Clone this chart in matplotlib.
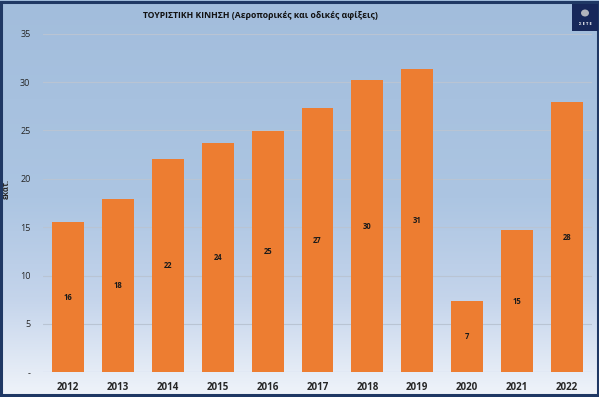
import numpy as np
import matplotlib
matplotlib.use("Agg")
import matplotlib.pyplot as plt
from matplotlib.patches import Rectangle, Ellipse

# data (million arrivals)
years = ["2012", "2013", "2014", "2015", "2016", "2017", "2018", "2019", "2020", "2021", "2022"]
arrivals = [15.5, 17.9, 22.0, 23.7, 24.9, 27.3, 30.2, 31.4, 7.4, 14.7, 27.9]
ytick_vals = [0, 5, 10, 15, 20, 25, 30, 35]
ytick_labels = ["-", "5", "10", "15", "20", "25", "30", "35"]

plt.rcParams["font.family"] = ["Open Sans", "DejaVu Sans"]

fig = plt.figure(figsize=(5.99, 3.97), dpi=100)

# background gradient (blue at top, near white at bottom)
bg = fig.add_axes([0, 0, 1, 1], zorder=-2)
stops = np.array([0.0, 0.5, 0.75, 1.0])
cols = np.array([[162, 189, 220], [172, 197, 226], [196, 212, 235], [240, 244, 250]]) / 255
t = np.linspace(0, 1, 400)
grad = np.stack([np.interp(t, stops, cols[:, i]) for i in range(3)], axis=1)
bg.imshow(grad[:, None, :], aspect="auto", extent=[0, 1, 0, 1])
bg.set_axis_off()
# frame
bg.add_patch(Rectangle((0.002, 0.004), 0.996, 0.992, fill=False, edgecolor="#1f3864",
                       linewidth=2.2, transform=bg.transAxes))

# logo box top right
bg.add_patch(Rectangle((572 / 599, 1 - 31 / 397), 26 / 599, 27 / 397, facecolor="#17285a",
                       edgecolor="none", transform=bg.transAxes))
bg.add_patch(Ellipse((585 / 599, 1 - 13 / 397), 8 / 599, 7 / 397, facecolor="#b0b4bc",
                     edgecolor="none", transform=bg.transAxes))
bg.text(585 / 599, 1 - 24 / 397, "Σ Ε Τ Ε", color="white", fontsize=3, ha="center",
        va="center", fontweight="bold", transform=bg.transAxes)
bg.set_xlim(0, 1)
bg.set_ylim(0, 1)

ax = fig.add_axes([43 / 599, 1 - 372.3 / 397, 549 / 599, 338.6 / 397])
ax.set_facecolor("none")

x = np.arange(len(years))
bars = ax.bar(x, arrivals, width=0.64, color="#ed7d31", zorder=3)
for xi, v in zip(x, arrivals):
    ax.text(xi, v / 2, str(int(round(v))), ha="center", va="center", fontsize=5.5,
            fontweight="bold", color="#1a1a1a", zorder=4)

ax.set_xlim(-0.5, len(years) - 0.5)
ax.set_ylim(0, 35)
ax.set_xticks(x)
ax.set_xticklabels(years, fontsize=7, fontweight="bold", color="#262626")
ax.set_yticks(ytick_vals)
ax.set_yticklabels(ytick_labels, fontsize=6.5, color="#262626")
ax.tick_params(length=0)
ax.tick_params(axis="x", pad=7)
ax.tick_params(axis="y", pad=9)
ax.grid(axis="y", color="#b9c4d3", linewidth=0.8, zorder=0)
for s in ax.spines.values():
    s.set_visible(False)

ax.set_ylabel("εκατ.", fontsize=5.5, fontweight="bold", color="#262626")
ax.yaxis.set_label_coords(-0.058, 0.54)

fig.text(260 / 599, 1 - 16 / 397, "ΤΟΥΡΙΣΤΙΚΗ ΚΙΝΗΣΗ (Αεροπορικές και οδικές αφίξεις)",
         ha="center", va="center", fontsize=6.2, fontweight="bold", color="#111111")

fig.savefig("out.png", dpi=100)
